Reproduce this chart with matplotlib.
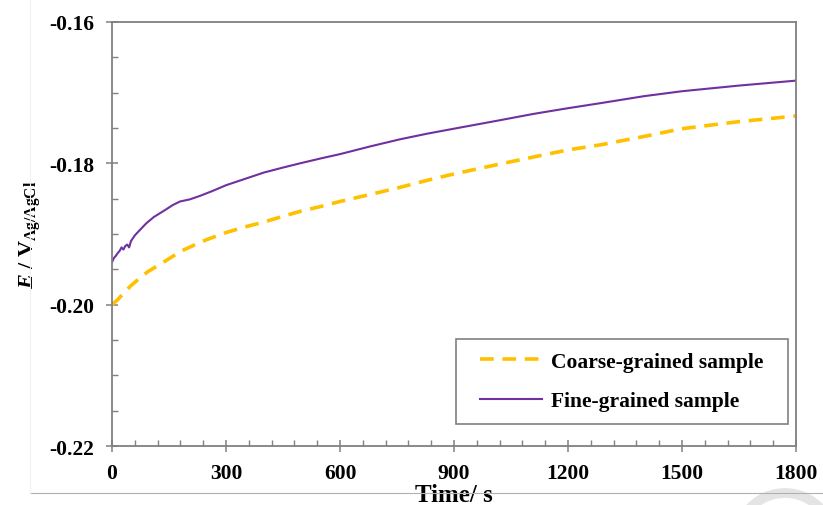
import matplotlib
matplotlib.use("Agg")
import matplotlib.pyplot as plt
from matplotlib.ticker import MultipleLocator, FuncFormatter
from matplotlib.patches import Circle, Rectangle
from matplotlib.lines import Line2D

# open circuit potential vs time (s, V vs Ag/AgCl)
t_fine = [0, 5, 10, 15, 20, 25, 30, 35, 40, 45, 50, 60, 74, 90, 110, 140, 160,
          179, 205, 232, 265, 300, 350, 400, 450, 495, 550, 600, 680, 758,
          830, 900, 1021, 1110, 1200, 1284, 1400, 1500, 1650, 1800]
e_fine = [-0.1940, -0.1934, -0.1931, -0.1927, -0.1924, -0.1919, -0.1922,
          -0.1917, -0.1915, -0.1919, -0.1910, -0.1902, -0.1894, -0.1885,
          -0.1876, -0.1866, -0.1859, -0.1854, -0.1851, -0.1846, -0.1839,
          -0.1831, -0.1822, -0.1813, -0.1806, -0.1800, -0.1793, -0.1787,
          -0.1776, -0.1766, -0.1758, -0.1751, -0.1739, -0.1730, -0.1722,
          -0.1715, -0.1705, -0.1698, -0.1690, -0.1683]

t_coarse = [0, 15, 30, 50, 74, 95, 120, 150, 179, 215, 249, 300, 350, 400,
            450, 495, 550, 600, 680, 758, 830, 900, 1021, 1110, 1200, 1284,
            1400, 1500, 1650, 1800]
e_coarse = [-0.2000, -0.1993, -0.1984, -0.1973, -0.1962, -0.1953, -0.1945,
            -0.1935, -0.1925, -0.1916, -0.1908, -0.1898, -0.1890, -0.1883,
            -0.1875, -0.1868, -0.1861, -0.1854, -0.1844, -0.1834, -0.1824,
            -0.1815, -0.1801, -0.1791, -0.1781, -0.1774, -0.1762, -0.1751,
            -0.1741, -0.1733]

labels = ["Coarse-grained sample", "Fine-grained sample"]
gold = "#FFC000"
violet = "#7030A0"
axis_grey = "#808080"

plt.rcParams["font.family"] = "Liberation Serif"
plt.rcParams["font.weight"] = "bold"
plt.rcParams["mathtext.fontset"] = "custom"
plt.rcParams["mathtext.rm"] = "Liberation Serif:bold"
plt.rcParams["mathtext.it"] = "Liberation Serif:italic:bold"
plt.rcParams["mathtext.bf"] = "Liberation Serif:bold"

fig = plt.figure(figsize=(8.23, 5.06), dpi=100)
ax = fig.add_axes([0.1361, 0.1166, 0.8311, 0.838])

ax.plot(t_coarse, e_coarse, color=gold, lw=2.6, dashes=(3.8, 2.4), label=labels[0])
ax.plot(t_fine, e_fine, color=violet, lw=1.5, label=labels[1])

ax.set_xlim(0, 1800)
ax.set_ylim(-0.22, -0.16)
ax.xaxis.set_major_locator(MultipleLocator(300))
ax.xaxis.set_minor_locator(MultipleLocator(60))
ax.yaxis.set_major_locator(MultipleLocator(0.02))
ax.yaxis.set_minor_locator(MultipleLocator(0.005))
ax.yaxis.set_major_formatter(FuncFormatter(lambda v, p: "%.2f" % v))

for s in ax.spines.values():
    s.set_color(axis_grey)
    s.set_linewidth(1.3)

ax.tick_params(which="major", direction="inout", length=8, width=1.1,
               color=axis_grey, labelsize=15.5, top=False, right=False)
ax.tick_params(which="minor", direction="in", length=4, width=1.0,
               color=axis_grey, top=False, right=False)
ax.tick_params(axis="x", which="major", pad=8)
ax.tick_params(axis="y", which="major", pad=9)
for lbl in ax.get_xticklabels() + ax.get_yticklabels():
    lbl.set_fontweight("bold")

ax.set_xlabel("Time/ s", fontsize=18, fontweight="bold", labelpad=0)
ax.set_ylabel(r"$\mathit{E}$ / V$_{\mathrm{Ag/AgCl}}$", fontsize=16,
              fontweight="bold", labelpad=4)

# legend entries without frame, box drawn separately for wider side padding
leg = ax.legend(loc="center", bbox_to_anchor=(0.745, 0.152), fontsize=15.5,
                frameon=False, handlelength=2.9, labelspacing=0.9,
                handletextpad=0.4, borderaxespad=0)
for txt in leg.get_texts():
    txt.set_fontweight("bold")
ax.add_patch(Rectangle((0.503, 0.052), 0.485, 0.200, transform=ax.transAxes,
                       fill=False, edgecolor=axis_grey, lw=1.2, zorder=5))

# page frame lines and faint mark at the lower right
fig.add_artist(Line2D([30 / 823, 1], [12 / 506, 12 / 506], color="#b0b0b0",
                      lw=0.8, transform=fig.transFigure))
fig.add_artist(Line2D([30 / 823, 30 / 823], [12 / 506, 1], color="#f0f0f0",
                      lw=0.8, transform=fig.transFigure))
fig.add_artist(Circle((785, -36), 48, transform=None, fill=False,
                      edgecolor="#e4e4e4", lw=7))

fig.savefig("out.png", dpi=100)
